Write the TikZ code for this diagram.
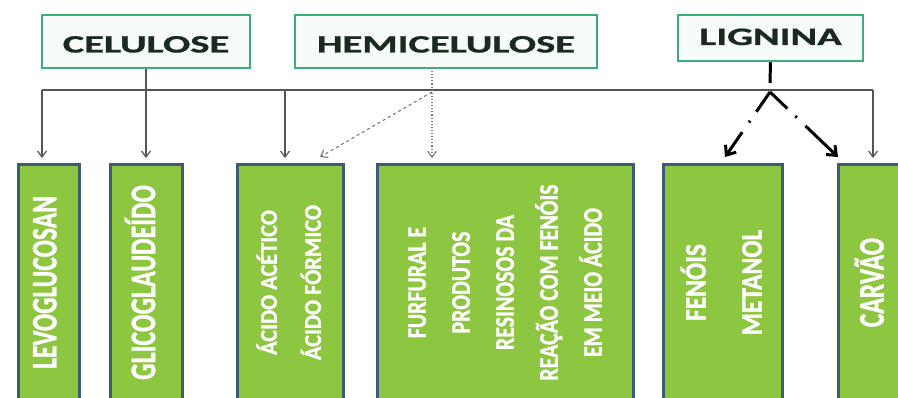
\documentclass[tikz,border=0pt]{standalone}
\usepackage{fontspec}
\setmainfont{Carlito}
\newfontfamily\topfont[FakeBold=0.8]{Carlito Bold}
\newfontfamily\botfont[FakeBold=1.2]{Carlito Bold}
\usetikzlibrary{arrows.meta,calc}
\definecolor{topgreen}{HTML}{3DAE78}
\definecolor{topfill}{HTML}{F7FCFA}
\definecolor{toptext}{HTML}{1A2A1E}
\definecolor{botfill}{HTML}{8DC640}
\definecolor{botedge}{HTML}{3E5C78}
\definecolor{linegray}{HTML}{555555}
\definecolor{dashgray}{HTML}{7A7A7A}
\newcommand{\vlab}[4]{\rotatebox{90}{\fontsize{#2}{#3}\selectfont\scalebox{#1}[1]{\begin{tabular}{@{}c@{}}#4\end{tabular}}}}
\newcommand{\hlab}[1]{\scalebox{1.62}[1]{#1}}
\begin{document}
\begin{tikzpicture}[x=1pt,y=-1pt,
  topbox/.style={draw=topgreen, line width=2.5pt, fill=topfill, inner sep=0pt, text=toptext, font=\fontsize{25}{25}\selectfont\topfont, text depth=0pt},
  botbox/.style={draw=botedge, line width=3pt, fill=botfill, inner sep=0pt, text=white, font=\botfont, minimum height=235pt},
  conn/.style={draw=linegray, line width=1.2pt},
  arr/.style={conn, -{Straight Barb[length=6pt,width=9pt,line width=1.2pt]}},
  hdot/.style={draw=dashgray, line width=1.1pt, dotted, -{Straight Barb[length=6pt,width=9pt,line width=1.1pt,line cap=butt]}},
  hdash/.style={draw=dashgray, line width=1.1pt, dashed, -{Straight Barb[length=6pt,width=9pt,line width=1.1pt]}},
  lig/.style={draw=black, line width=3pt},
  ligdash/.style={draw=black, line width=3pt, dash pattern=on 24pt off 11pt on 2pt off 12pt},
  ligarr/.style={draw=black, line width=3pt, -{Straight Barb[length=8pt,width=13pt,line width=3pt]}}
]
\useasboundingbox[fill=white] (0,0) rectangle (898,398);

% top boxes
\node[topbox, minimum width=208pt, minimum height=53pt, text height=22pt] (cel) at (146,41.5) {\hlab{CELULOSE}};
\node[topbox, minimum width=302pt, minimum height=53pt, text height=22pt] (hem) at (446,41.5) {\hlab{HEMICELULOSE}};
\node[topbox, minimum width=185pt, minimum height=46pt, text height=14pt] (lgn) at (770.5,38) {\hlab{LIGNINA}};

% bottom boxes
\node[botbox, minimum width=61pt] (lev) at (48.5,282.5) {\vlab{0.71}{36}{40}{LEVOGLUCOSAN}};
\node[botbox, minimum width=72pt] (gli) at (146,282.5) {\vlab{0.72}{36}{40}{GLICOGLAUDEÍDO}};
\node[botbox, minimum width=106pt] (aci) at (290,282.5) {\vlab{0.93}{24}{44}{ÁCIDO ACÉTICO\\ÁCIDO FÓRMICO}};
\node[botbox, minimum width=256pt] (fur) at (505,282.5) {\vlab{0.81}{27}{44}{FURFURAL E\\PRODUTOS\\RESINOSOS DA\\REAÇÃO COM FENÓIS\\EM MEIO ÁCIDO}};
\node[botbox, minimum width=119pt] (fen) at (722.5,282.5) {\vlab{0.85}{30}{56}{FENÓIS\\METANOL}};
\node[botbox, minimum width=74pt] (car) at (875,282.5) {\vlab{0.71}{36}{40}{CARVÃO}};

% junction coordinates
\coordinate (jl) at (42,90);
\coordinate (jc) at (146,90);
\coordinate (ja) at (285,90);
\coordinate (jr) at (873,90);
\coordinate (hd) at (432,68);
\coordinate (hj) at (432,92);
\coordinate (lg) at (770,83);
\coordinate (lap) at (770,92);
\coordinate (tl) at (42,158);
\coordinate (tc) at (146,158);
\coordinate (ta) at (285,158);
\coordinate (tr) at (873,158);
\coordinate (th) at (432,158);
\coordinate (td) at (320,157);
\coordinate (tfl) at (725,157);
\coordinate (tfr) at (838,157);
\coordinate (mfl) at ($(lap)!0.62!(tfl)$);
\coordinate (mfr) at ($(lap)!0.54!(tfr)$);

% cellulose / common line
\draw[conn] (jl) -- (jr);
\draw[conn] (cel.south) -- (jc);
\draw[arr] (jl) -- (tl);
\draw[arr] (jc) -- (tc);
\draw[arr] (ja) -- (ta);
\draw[arr] (jr) -- (tr);

% hemicellulose
\draw[hdot] (hd) -- (th);
\draw[hdash] (hj) -- (td);

% lignin
\draw[lig] (lgn.south) -- (lg);
\draw[ligdash] (lap) -- (mfl);
\draw[ligarr] (mfl) -- (tfl);
\draw[ligdash] (lap) -- (mfr);
\draw[ligarr] (mfr) -- (tfr);
\end{tikzpicture}
\end{document}
